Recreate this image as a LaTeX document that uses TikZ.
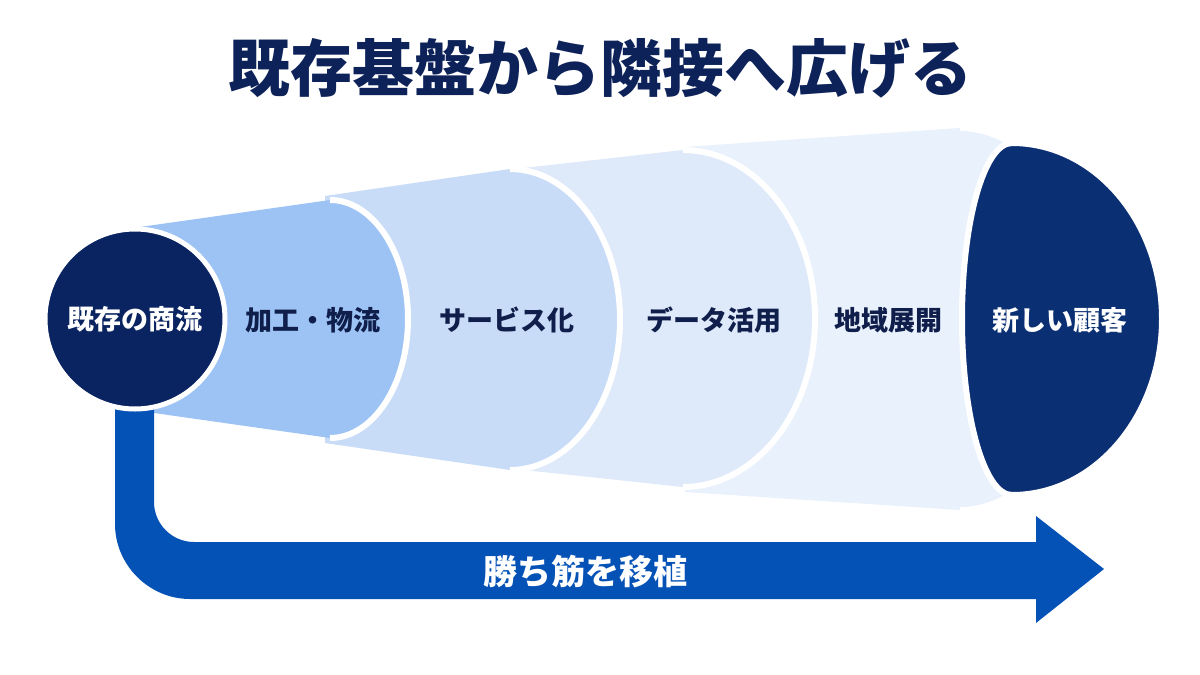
\documentclass[tikz,border=0pt]{standalone}
\usepackage{fontspec}
\setmainfont{Noto Sans CJK JP}
\definecolor{titleblue}{HTML}{0D2259}
\definecolor{inkblue}{HTML}{0F1E4A}
\definecolor{navyA}{HTML}{0A2361}
\definecolor{navyB}{HTML}{0B2F73}
\definecolor{arrowblue}{HTML}{0552B6}
\definecolor{segA}{HTML}{9DC3F5}
\definecolor{segB}{HTML}{C8DCF8}
\definecolor{segC}{HTML}{DEE9FA}
\definecolor{segD}{HTML}{E9F1FC}
\tikzset{
  seglbl/.style={text=inkblue, font=\fontsize{27}{30}\selectfont\bfseries},
  gap/.style={draw=white, line width=6pt}
}
\begin{document}
\begin{tikzpicture}[x=1pt, y=-1pt]
  \useasboundingbox (0,0) rectangle (1200,675);
  \fill[white] (0,0) rectangle (1200,675);
  \node[text=titleblue, font=\fontsize{62}{70}\selectfont\bfseries] (title) at (600,68) {既存基盤から隣接へ広げる};
  % segments, widest first
  \foreach \xo/\yt/\yb/\xa/\tp/\bt/\rx/\col in {685/147/492/960/128/510/130/segD, 515/169/469/683/150/487/132/segC, 325/196/443/510/169/470/110/segB, 140/227/411/330/200/438/78/segA}{
    \pgfmathsetmacro\cy{(\tp+\bt)/2}
    \pgfmathsetmacro\kx{0.552*\rx}
    \pgfmathsetmacro\ky{0.552*(\bt-\tp)/2}
    \fill[\col] (\xo,\yt) -- (\xa,\tp) .. controls ({\xa+\kx},\tp) and ({\xa+\rx},{\cy-\ky}) .. ({\xa+\rx},\cy) .. controls ({\xa+\rx},{\cy+\ky}) and ({\xa+\kx},\bt) .. (\xa,\bt) -- (\xo,\yb) -- cycle;
    \draw[gap] (\xa,\tp) .. controls ({\xa+\kx},\tp) and ({\xa+\rx},{\cy-\ky}) .. ({\xa+\rx},\cy) .. controls ({\xa+\rx},{\cy+\ky}) and ({\xa+\kx},\bt) .. (\xa,\bt);
  }
  \node[seglbl] (proc) at (313,320) {加工・物流};
  \node[seglbl] (serv) at (507,320) {サービス化};
  \node[seglbl] (data) at (714,320) {データ活用};
  \node[seglbl] (region) at (888,320) {地域展開};
  % new customers
  \filldraw[gap, fill=navyB] (1012,143) .. controls (1095,143) and (1162,222) .. (1162,319) .. controls (1162,416) and (1095,495) .. (1012,495) .. controls (984,495) and (962,416) .. (962,319) .. controls (962,222) and (984,143) .. (1012,143) -- cycle;
  \node[text=white, font=\fontsize{27}{30}\selectfont\bfseries] (newcust) at (1060,320) {新しい顧客};
  % arrow
  \fill[arrowblue] (115,400) -- (115,524) .. controls (115,565) and (149,599) .. (190,599) -- (1036,599) -- (1036,623) -- (1104,569) -- (1036,516) -- (1036,542) -- (194,542) .. controls (172,542) and (154,524) .. (154,502) -- (154,400) -- cycle;
  \node[text=white, font=\fontsize{34}{38}\selectfont\bfseries] (move) at (585,572) {勝ち筋を移植};
  % base circle
  \node[circle, fill=navyA, draw=white, line width=5pt, minimum size=180pt, inner sep=0pt, text=white, font=\fontsize{27}{30}\selectfont\bfseries] (base) at (135,319) {既存の商流};
\end{tikzpicture}
\end{document}
